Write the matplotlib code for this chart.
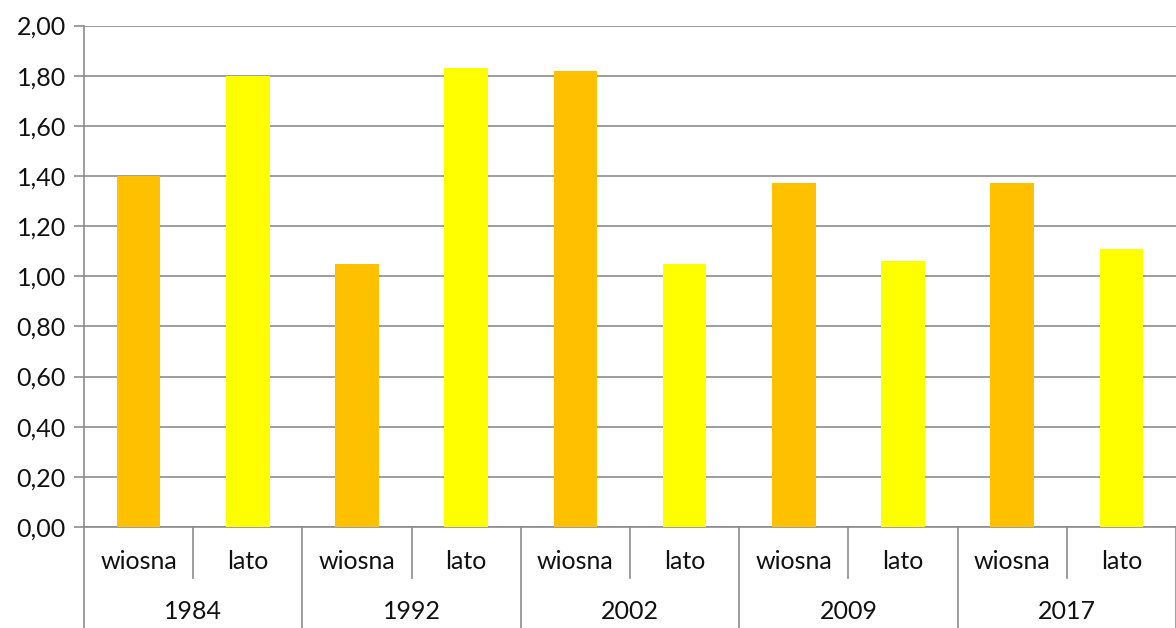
import matplotlib.pyplot as plt
from matplotlib.ticker import FuncFormatter
import matplotlib.transforms as mtransforms

years = ['1984', '1992', '2002', '2009', '2017']
seasons = ['wiosna', 'lato']
values = [1.40, 1.80, 1.05, 1.83, 1.82, 1.05, 1.37, 1.06, 1.37, 1.11]
season_colors = ['#FFC000', '#FFFF00']

plt.rcParams['font.family'] = ['Lato', 'DejaVu Sans']

fig = plt.figure(figsize=(11.76, 6.28), dpi=100)
ax = fig.add_axes([84 / 1176, 101 / 628, 1092 / 1176, 501.5 / 628])

n = len(values)
x = list(range(n))
colors = [season_colors[i % 2] for i in x]
ax.bar(x, values, width=0.4, color=colors, zorder=3)

grid_color = '#8C8C8C'
ax.set_ylim(0, 2.0)
ax.set_xlim(-0.5, n - 0.5)
ax.set_yticks([i * 0.2 for i in range(11)])
ax.yaxis.set_major_formatter(FuncFormatter(lambda v, p: f'{v:.2f}'.replace('.', ',')))
ax.grid(axis='y', color=grid_color, linewidth=1.2, zorder=0)
ax.tick_params(axis='y', length=7, width=1.2, color=grid_color, labelsize=18,
               labelcolor='#111111', pad=6)

for s in ['top', 'right']:
    ax.spines[s].set_visible(False)
for s in ['left', 'bottom']:
    ax.spines[s].set_color(grid_color)
    ax.spines[s].set_linewidth(1.2)

ax.set_xticks([])

# two-level category axis: seasons, then years, with separators
trans = mtransforms.blended_transform_factory(ax.transData, ax.transAxes)
for i in range(n + 1):
    xb = i - 0.5
    bottom = -0.21 if i % 2 == 0 else -0.102
    ax.plot([xb, xb], [0, bottom], color=grid_color, linewidth=1.2,
            transform=trans, clip_on=False)
for i in x:
    ax.text(i, -0.068, seasons[i % 2], transform=trans, ha='center', va='center',
            fontsize=18, color='#111111')
for j, yr in enumerate(years):
    ax.text(2 * j + 0.5, -0.168, yr, transform=trans, ha='center', va='center',
            fontsize=18, color='#111111')

fig.savefig('out.png', dpi=100)
